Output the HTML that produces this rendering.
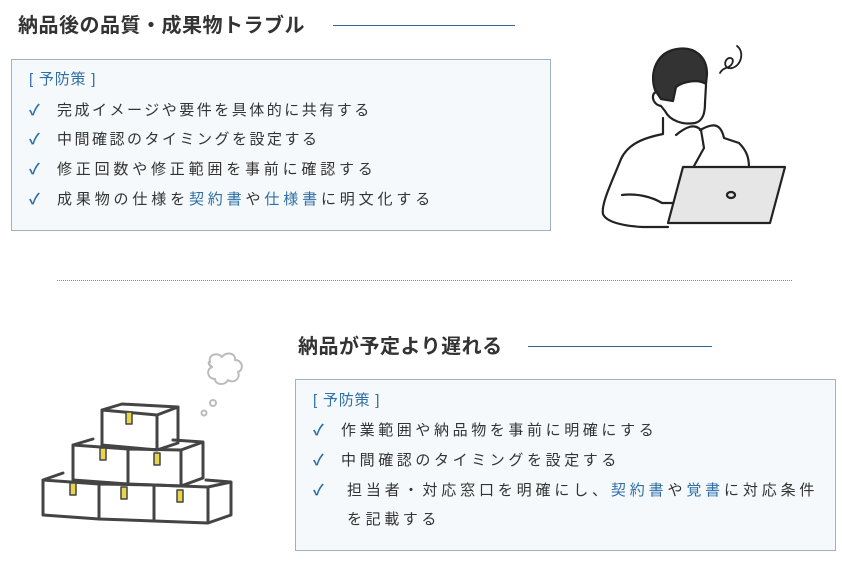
<!DOCTYPE html>
<html><head><meta charset="utf-8"><style>
body{margin:0;width:842px;height:566px;background:#fff;position:relative;overflow:hidden;font-family:"Liberation Sans","Noto Sans CJK JP",sans-serif;color:#333}
.t{position:absolute;font-weight:bold;font-size:20px;letter-spacing:0.5px;color:#333;line-height:22px;white-space:nowrap}
.ln{position:absolute;height:1px;background:#2d6496}
.box{position:absolute;background:#f6f9fb;border:1px solid #9fb2bf}
.r{position:absolute;font-size:15px;letter-spacing:2.5px;line-height:20px;white-space:nowrap}
.r2{letter-spacing:3.6px}
.b{color:#2d6fa6}
.c{color:#2d6fa6;font-weight:bold;position:absolute}
</style></head><body>
<div class="t" style="left:18px;top:15px">納品後の品質・成果物トラブル</div>
<div class="ln" style="left:333px;top:25px;width:182px"></div>
<div class="box" style="left:11px;top:59px;width:538px;height:170px"></div>
<div class="r b" style="left:29px;top:70px;letter-spacing:0.8px">[ 予防策 ]</div>
<div class="r" style="left:29px;top:101px"><span class="c" style="left:0">✓</span><span style="margin-left:28px">完成イメージや要件を具体的に共有する</span></div>
<div class="r" style="left:29px;top:130px"><span class="c" style="left:0">✓</span><span style="margin-left:28px">中間確認のタイミングを設定する</span></div>
<div class="r" style="left:29px;top:160px;letter-spacing:3.8px"><span class="c" style="left:0">✓</span><span style="margin-left:28px">修正回数や修正範囲を事前に確認する</span></div>
<div class="r" style="left:29px;top:190px;letter-spacing:3.85px"><span class="c" style="left:0">✓</span><span style="margin-left:28px">成果物の仕様を<span class="b">契約書</span>や<span class="b">仕様書</span>に明文化する</span></div>

<div style="position:absolute;left:57px;top:280px;width:735px;border-top:1px dotted #888"></div>

<div class="t" style="left:298px;top:336px">納品が予定より遅れる</div>
<div class="ln" style="left:528px;top:346px;width:184px"></div>
<div class="box" style="left:295px;top:379px;width:539px;height:170px"></div>
<div class="r b" style="left:313px;top:391px;letter-spacing:0.8px">[ 予防策 ]</div>
<div class="r r2" style="left:313px;top:421px"><span class="c" style="left:0">✓</span><span style="margin-left:28px">作業範囲や納品物を事前に明確にする</span></div>
<div class="r r2" style="left:313px;top:451px"><span class="c" style="left:0">✓</span><span style="margin-left:28px">中間確認のタイミングを設定する</span></div>
<div class="r r2" style="left:313px;top:481px;letter-spacing:3.85px"><span class="c" style="left:0">✓</span><span style="margin-left:34px">担当者・対応窓口を明確にし、<span class="b">契約書</span>や<span class="b">覚書</span>に対応条件</span></div>
<div class="r r2" style="left:347px;top:510px">を記載する</div>

<svg style="position:absolute;left:0;top:0" width="842" height="566" fill="none" stroke="#222" stroke-width="2.2" stroke-linejoin="round" stroke-linecap="round">
<path d="M737 46 c8 6 4 20 -5 22 c-8 2 -9 -8 -3 -10 c6 -1 5 8 -3 10 c-3 1 -5 3 -6 5" stroke-width="1.8"/>
<path d="M655 90 c-6 -18 2 -38 22 -41 c18 -3 30 8 30 25 l-1 10 c-8 -5 -22 -3 -30 3 l-3 14 l-12 -2 z" fill="#333"/>
<path d="M657 92 c-6 0 -6 12 4 14 l4 5 c5 10 18 14 30 12 c8 -2 10 -10 10 -20 l1 -18"/>
<path d="M663 118 l0 16 c-20 4 -35 10 -42 25 c-10 25 -20 45 -18 55 c3 8 20 12 40 13 l25 0"/>
<path d="M700 130 c10 -5 20 -10 24 8 l15 5 c8 8 10 15 10 25"/>
<path d="M676 135 c10 -8 18 -12 25 -5 l3 18 l-10 18"/>
<path d="M622 195 c15 -2 30 2 40 8 l15 0"/>
<path d="M683 167 l102 0 l-15 56 l-102 0 z" fill="#e6e6e6"/>
<ellipse cx="731" cy="195" rx="4" ry="3"/>
<path d="M210 362 c-2 -8 8 -10 12 -5 c4 -6 14 -4 13 3 c8 0 9 10 3 12 c3 7 -5 12 -10 8 c-3 6 -13 5 -13 -1 c-8 0 -9 -10 -3 -12 c-4 -2 -4 -6 -2 -5z" stroke="#bbb" stroke-width="2"/>
<circle cx="213" cy="403" r="3" stroke="#bbb" stroke-width="2"/>
<circle cx="204" cy="413" r="2.5" stroke="#bbb" stroke-width="2"/>
<g stroke="#444" stroke-width="3">
<path d="M102 410 l0 35 l55 5 l0 -35 z M102 410 l20 -6 l56 3 l-21 8 M157 450 l21 -7 l0 -36"/>
<path d="M73 445 l0 35 l55 4 l0 -35 z M73 445 l20 -6 M128 484 l53 2 l0 -36 l-53 -1 M181 486 l22 -8 l0 -36 l-22 8 M181 450 l22 -8 l-30 -2"/>
<path d="M43 480 l0 35 l56 4 l0 -35 z M43 480 l20 -7 M99 519 l55 2 l0 -36 l-55 -1 M154 521 l54 2 l0 -36 l-54 -2 M208 523 l23 -8 l0 -33 l-23 5 M208 487 l23 -5 l-25 -2"/>
</g>
<g fill="#e8d44d" stroke="#444" stroke-width="1.5">
<rect x="126" y="412" width="6" height="12"/><rect x="100" y="448" width="6" height="12"/><rect x="154" y="453" width="6" height="12"/>
<rect x="70" y="483" width="6" height="12"/><rect x="121" y="487" width="6" height="12"/><rect x="177" y="490" width="6" height="12"/>
</g>
</svg>
</body></html>
